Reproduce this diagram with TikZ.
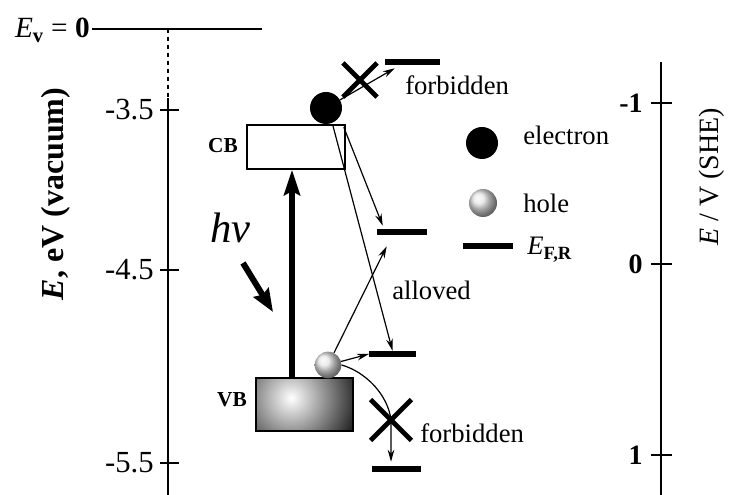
\documentclass[tikz,border=0pt]{standalone}
\usepackage{fontspec}
\setmainfont{Liberation Serif}
\usetikzlibrary{arrows.meta,shapes.misc}

\newcommand{\fsz}[1]{\fontsize{#1}{#1}\selectfont}

\tikzset{
  axisline/.style={line width=1.2pt},
  levelbar/.style={fill=black, inner sep=0pt, minimum height=4.5pt},
  thinarrow/.style={-{Stealth[length=9pt,width=5pt]}, line width=0.9pt},
  bigcross/.style={cross out, draw, line width=3.6pt, inner sep=0pt},
  txt/.style={inner sep=0pt, font=\fsz{20}},
}

\begin{document}
\begin{tikzpicture}[x=0.75pt,y=0.75pt,yscale=-1,xscale=1]
\useasboundingbox (0,0) rectangle (729,495);

%Straight Lines - vacuum level
\draw [axisline] (92,29) -- (262,29) ;
% Text Node
\node [txt, anchor=base east, font=\fsz{22}] (evac) at (90,38) {\textit{E}\textsubscript{\textbf{v}} = \textbf{0}};

%Straight Lines - left axis
\coordinate (ltop) at (168,29) ;
\coordinate (lcut) at (168,98) ;
\coordinate (lbot) at (168,495) ;
\draw [axisline, dashed] (ltop) -- (lcut) ;
\draw [axisline] (lcut) -- (lbot) ;
\foreach \y/\t in {110/-3.5, 270/-4.5, 463/-5.5} {
  \draw [axisline] (160,\y) -- (179,\y) ;
  \node [inner sep=0pt, anchor=east, font=\fsz{23}] at (154,\y) {\t};
}
% Text Node
\node [rotate=90, anchor=base, inner sep=0pt, font=\fsz{24}\bfseries] (eaxis) at (63,194) {\textit{E}, eV (vacuum)};

%Straight Lines - right axis
\coordinate (rtop) at (661,62) ;
\coordinate (rbot) at (661,495) ;
\draw [axisline] (rtop) -- (rbot) ;
\foreach \y/\t in {103/-1, 264/0, 455/1} {
  \draw [axisline] (651,\y) -- (672,\y) ;
  \node [inner sep=0pt, anchor=east, font=\fsz{21}\bfseries] at (643,\y) {\t};
}
% Text Node
\node [rotate=90, anchor=base, inner sep=0pt, font=\fsz{21}] (sheaxis) at (718,177) {\textit{E} / V (SHE)};

%Shape: Rectangle - bands
\node [draw, line width=1.2pt, inner sep=0pt, minimum width=73.5pt, minimum height=33pt] (cb) at (296,147) {};
\node [draw, line width=1.4pt, fill=black!85, inner sep=0pt, minimum width=72.75pt, minimum height=39.75pt,
       path picture={\shade[inner color=white, outer color=black!85]
         ([xshift=-10pt, yshift=5pt]path picture bounding box.center) circle (50pt);}] (vb) at (304.5,404.5) {};
\node [txt, anchor=base east, font=\fsz{16}\bfseries] (cblbl) at (238,153) {CB};
\node [txt, anchor=base east, font=\fsz{16}\bfseries] (vblbl) at (247,407) {VB};

%Excitation
\coordinate (pump) at (292,0) ;
\draw [line width=5pt, -{Stealth[length=19pt,width=12pt,inset=3pt]}] (vb.north -| pump) -- (cb.south -| pump) ;
\node [txt, anchor=base west, font=\fsz{32}] (hv) at (210,243) {\textit{hv}};
\coordinate (hvS) at (243,263) ;
\coordinate (hvE) at (273,312) ;
\draw [line width=4.5pt, -{Stealth[length=17pt,width=13pt,inset=2pt]}] (hvS) -- (hvE) ;

%Levels
\node [levelbar, minimum width=41.25pt] (lv1) at (412.5,62) {};
\node [levelbar, minimum width=37.5pt] (lv2) at (402,232) {};
\node [levelbar, minimum width=35pt] (lv3) at (392.5,354) {};
\node [levelbar, minimum width=37pt] (lv4) at (396.5,469) {};

%Carriers
\node [circle, fill=black, inner sep=0pt, minimum size=24pt] (el) at (326,108) {};
\node [circle, shading=ball, ball color=gray!20, inner sep=0pt, minimum size=20pt] (ho) at (328,365) {};

%Crosses
\node [bigcross, minimum size=22pt] (x1) at (360,80) {};
\node [bigcross, minimum size=27pt] (x2) at (391,420) {};

%Transfers
\draw [thinarrow] (el) -- ([shift={(10,3)}]lv1.south west) ;
\draw [thinarrow] ([shift={(-13,1)}]cb.north east) -- (lv3.north) ;
\draw [thinarrow] ([shift={(-2,3)}]cb.north east) -- ([shift={(6,-3)}]lv2.north west) ;
\draw [thinarrow] (ho) -- ([shift={(10,11)}]lv2.south west) ;
\draw [thinarrow] (ho) -- (lv3.west) ;
\draw [thinarrow] (ho.east) .. controls (366,372) and (388,395) .. (x2.center) -- ([shift={(0,-4)}]lv4.north -| x2) ;

% Text Node
\node [txt, anchor=base west] (forb1) at (405,95) {forbidden};
\node [txt, anchor=base west] (allow) at (392,300) {alloved};
\node [txt, anchor=base west] (forb2) at (420,443) {forbidden};

%Legend
\node [circle, fill=black, inner sep=0pt, minimum size=24pt] (lgel) at (482,143) {};
\node [circle, shading=ball, ball color=gray!20, inner sep=0pt, minimum size=21pt] (lgho) at (483,203) {};
\node [levelbar, minimum width=37.5pt] (lgbar) at (488,246) {};
\node [txt, anchor=base west] (lgeltxt) at (523,145) {electron};
\node [txt, anchor=base west] (lghotxt) at (523,213) {hole};
\node [txt, anchor=base west] (lgbartxt) at (527,255) {\textit{E}\textsubscript{\textbf{F,R}}};

\end{tikzpicture}
\end{document}
